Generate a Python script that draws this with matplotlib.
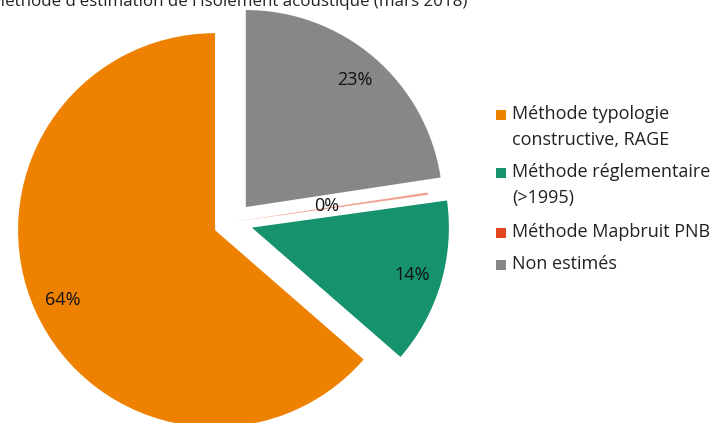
import matplotlib
matplotlib.use("Agg")
import matplotlib.pyplot as plt
from matplotlib.patches import Rectangle
import numpy as np

plt.rcParams['font.family'] = ['Open Sans', 'DejaVu Sans']

title = "Méthode d'estimation de l'isolement acoustique (mars 2018)"
categories = ["Méthode typologie\nconstructive, RAGE",
              "Méthode réglementaire\n(>1995)",
              "Méthode Mapbruit PNB",
              "Non estimés"]
values = [63.6, 13.6, 0.2, 22.6]
colors = ["#EE8200", "#16926E", "#E2461E", "#878787"]
explode = [0.1, 0.1, 0.0, 0.1]

W, H = 724, 423
fig = plt.figure(figsize=(W / 100, H / 100), dpi=100)

# pie center / radius in pixels
cx, cy, R = 233, 222, 197
half = 260
ax = fig.add_axes([(cx - half) / W, (H - cy - half) / H, 2 * half / W, 2 * half / H])
wedges, texts, autotexts = ax.pie(values, colors=colors, explode=explode,
                                  startangle=90, counterclock=True,
                                  autopct='%.0f%%', pctdistance=0.85,
                                  wedgeprops=dict(linewidth=0),
                                  textprops=dict(fontsize=13, color='#111111'))
lim = half / R
ax.set_xlim(-lim, lim)
ax.set_ylim(-lim, lim)
ax.set_aspect('equal')
ax.axis('off')

# small slice label placed closer to center
w = wedges[2]
ang = np.deg2rad((w.theta1 + w.theta2) / 2)
autotexts[2].set_position((0.48 * np.cos(ang), 0.48 * np.sin(ang) + 0.01))
wedges[2].set_alpha(0.5)

fig.text(229 / W, 1 - 6 / H, title, ha='center', va='baseline', fontsize=12.2, color='#222222')

# legend
ys = [115, 173, 233, 265]
for lab, col, y in zip(categories, colors, ys):
    fig.add_artist(Rectangle((496 / W, 1 - (y + 5) / H), 10 / W, 10 / H,
                             transform=fig.transFigure, color=col, linewidth=0))
    fig.text(512 / W, 1 - (y - 10) / H, lab, ha='left', va='top', fontsize=13,
             color='#222222', linespacing=1.6)

fig.savefig("out.png", dpi=100)
